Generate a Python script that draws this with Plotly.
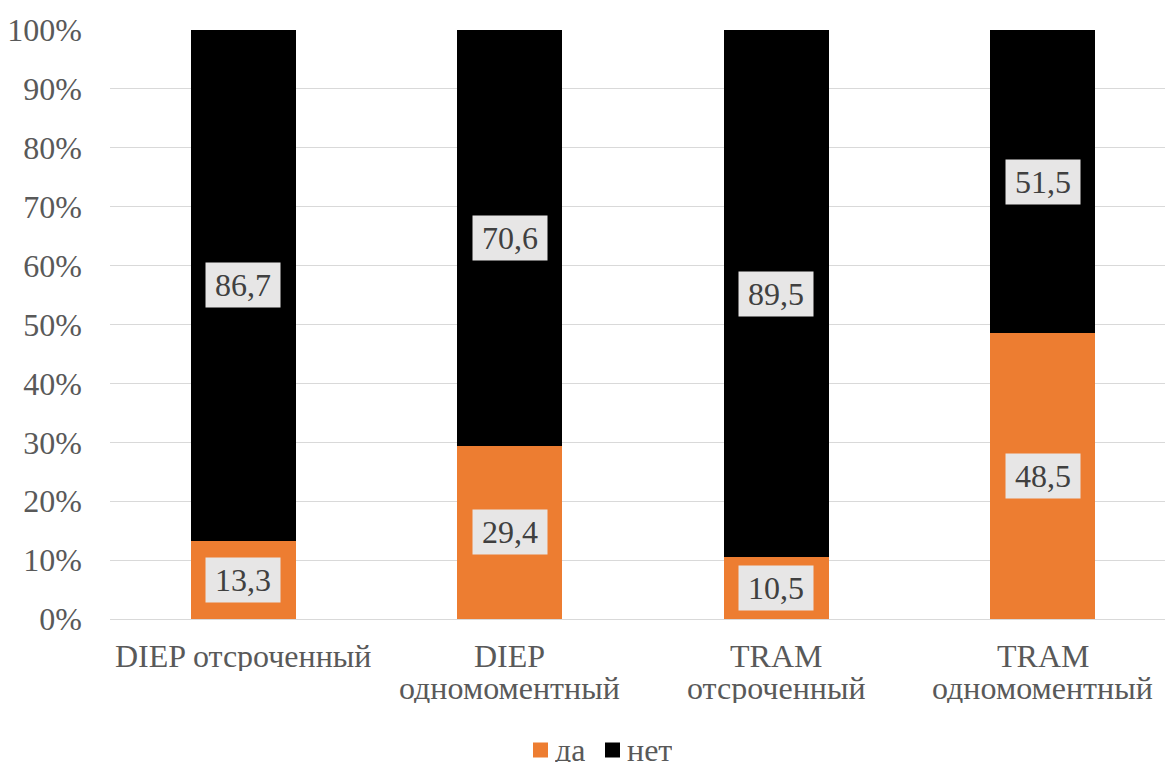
import plotly.graph_objects as go

categories = ["DIEP отсроченный", "DIEP<br>одномоментный", "TRAM<br>отсроченный", "TRAM<br>одномоментный"]
yes_values = [13.3, 29.4, 10.5, 48.5]
no_values = [86.7, 70.6, 89.5, 51.5]
series_names = ["да", "нет"]
y_ticks = [0, 10, 20, 30, 40, 50, 60, 70, 80, 90, 100]
y_tick_labels = [f"{v}%" for v in y_ticks]

FONT = "Liberation Serif"
ORANGE = "#ED7D31"
BLACK = "#000000"
GREY_TEXT = "#595959"
SIZE = 32
colors = [ORANGE, BLACK]

# plot area in pixels (for placing the custom legend below the axis)
W, H = 1165, 763
M_L, M_R, M_T, M_B = 110, 0, 30, 144
PW, PH = W - M_L - M_R, H - M_T - M_B

x_pos = list(range(len(categories)))

fig = go.Figure()
fig.add_trace(go.Bar(x=x_pos, y=yes_values, name=series_names[0], marker_color=ORANGE,
                     marker_line_width=0, width=0.395, showlegend=False))
fig.add_trace(go.Bar(x=x_pos, y=no_values, name=series_names[1], marker_color=BLACK,
                     marker_line_width=0, width=0.395, showlegend=False))

# value labels in grey boxes, centred on each segment
def fmt(v):
    return f"{v:.1f}".replace(".", ",")

for i in x_pos:
    for y, v in [(yes_values[i] / 2, yes_values[i]), (yes_values[i] + no_values[i] / 2, no_values[i])]:
        fig.add_annotation(x=i, y=y, text=fmt(v), showarrow=False,
                           bgcolor="#E7E6E6", borderpad=0, width=74, height=44,
                           font=dict(family=FONT, size=SIZE, color="#404040"))

# category labels under the bars, one annotation per line for tight line spacing
for i, cat in enumerate(categories):
    for k, line in enumerate(cat.split("<br>")):
        fig.add_annotation(x=i, y=0, xref="x", yref="paper", text=line, showarrow=False,
                           xanchor="center", yanchor="middle", yshift=-37 - 32 * k,
                           height=30, borderpad=0,
                           font=dict(family=FONT, size=SIZE, color=GREY_TEXT))

# legend: coloured squares followed by series names
legend_left_px = [533, 605]
legend_y_px = 750
sq = 15
for name, color, left in zip(series_names, colors, legend_left_px):
    fx0 = (left - M_L) / PW
    fx1 = (left + sq - M_L) / PW
    fy0 = (M_T + PH - (legend_y_px + sq / 2)) / PH
    fy1 = (M_T + PH - (legend_y_px - sq / 2)) / PH
    fig.add_shape(type="rect", xref="paper", yref="paper", x0=fx0, x1=fx1, y0=fy0, y1=fy1,
                  fillcolor=color, line_width=0)
    fig.add_annotation(xref="paper", yref="paper", x=(left + sq + 6 - M_L) / PW,
                       y=(M_T + PH - legend_y_px) / PH, xanchor="left", yanchor="middle",
                       text=name, showarrow=False, height=24, borderpad=0,
                       font=dict(family=FONT, size=SIZE, color=GREY_TEXT))

fig.update_layout(
    barmode="stack",
    width=W, height=H,
    margin=dict(l=M_L, r=M_R, t=M_T, b=M_B),
    plot_bgcolor="white", paper_bgcolor="white",
    font=dict(family=FONT, size=SIZE, color=GREY_TEXT),
    showlegend=False,
)
fig.update_xaxes(range=[-0.5, 3.459], tickvals=x_pos, showticklabels=False,
                 showgrid=False, zeroline=False, showline=False, ticks="")
fig.update_yaxes(range=[0, 100], tickvals=y_ticks, ticktext=y_tick_labels,
                 showgrid=True, gridcolor="#D9D9D9", gridwidth=1.3,
                 zeroline=True, zerolinecolor="#D9D9D9", zerolinewidth=1.3,
                 showline=False, ticks="", ticklabelstandoff=27,
                 tickfont=dict(family=FONT, size=SIZE, color=GREY_TEXT))

fig.write_html("out.html")
